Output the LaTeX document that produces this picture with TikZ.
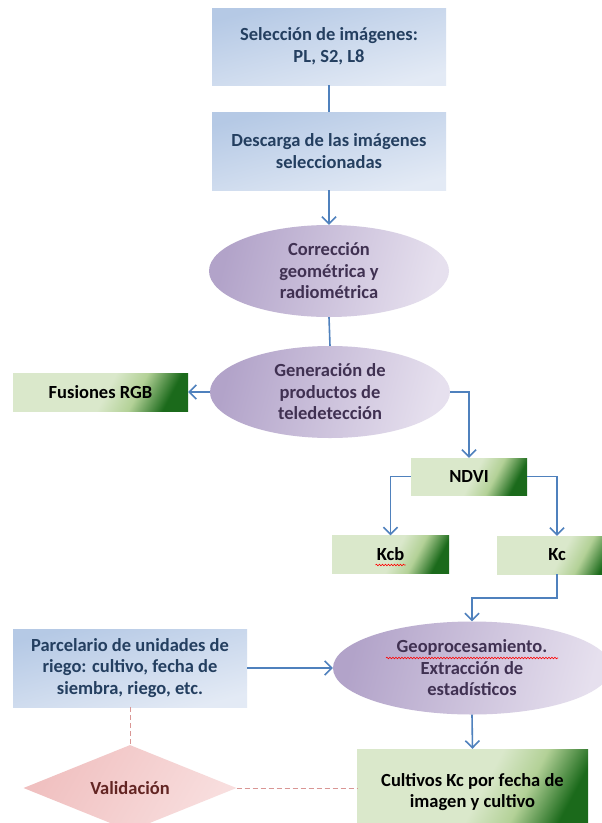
\documentclass[tikz,border=0pt]{standalone}
\usepackage{fontspec}
\setmainfont{Carlito}
\usetikzlibrary{shapes.geometric,arrows.meta,decorations.pathmorphing}
\definecolor{conn}{HTML}{4F81BD}
\definecolor{bluetxt}{HTML}{243F60}
\definecolor{blueA}{HTML}{B5C9E5}
\definecolor{blueB}{HTML}{E3EAF5}
\definecolor{purA}{HTML}{B2A3C9}
\definecolor{purB}{HTML}{E6E0EE}
\definecolor{purtxt}{HTML}{403152}
\definecolor{grL}{HTML}{DAE8CB}
\definecolor{grM}{HTML}{B3D197}
\definecolor{grD}{HTML}{1B6A1B}
\definecolor{pinkA}{HTML}{F0C0C0}
\definecolor{pinkB}{HTML}{F8DEDE}
\definecolor{redtxt}{HTML}{632523}
\definecolor{dashred}{HTML}{D99694}
\pgfdeclarehorizontalshading{greenbox}{100bp}{color(0bp)=(grL); color(25bp)=(grL); color(52bp)=(grL); color(63bp)=(grM); color(75bp)=(grD); color(100bp)=(grD)}
\pgfdeclarehorizontalshading{purpshade}{100bp}{color(0bp)=(purA); color(25bp)=(purA); color(75bp)=(purB); color(100bp)=(purB)}
\pgfdeclarehorizontalshading{pinkshade}{100bp}{color(0bp)=(pinkA); color(25bp)=(pinkA); color(75bp)=(pinkB); color(100bp)=(pinkB)}
\tikzset{
  txt/.style={font=\fontsize{18.5}{21.5}\selectfont\bfseries, align=center, inner sep=0pt},
  bluebox/.style={txt, rectangle, shade, top color=blueA, bottom color=blueB, shading angle=15, text=bluetxt},
  ovalbox/.style={txt, ellipse, shade, shading=purpshade, shading angle=-15, text=purtxt},
  greenrect/.style={txt, rectangle, shade, shading=greenbox, shading angle=-28, text=black},
  valbox/.style={txt, diamond, shade, shading=pinkshade, shading angle=-30, text=redtxt, aspect=2.5},
  link/.style={draw=conn, line width=1.6pt},
  arr/.style={link, -{Straight Barb[length=7pt,width=14pt,line width=1.6pt]}},
  dashlink/.style={draw=dashred, line width=1pt, dash pattern=on 5pt off 3pt},
  spell/.style={draw=red, line width=0.6pt, decorate, decoration={snake, segment length=3pt, amplitude=0.8pt}}
}
\begin{document}
\begin{tikzpicture}[x=1pt,y=-1pt]
\path[clip] (0,0) rectangle (602,823);
\fill[white] (0,0) rectangle (602,823);

\node[bluebox, minimum width=234pt, minimum height=77pt] (sel) at (329,46.5) {Selección de imágenes:\\PL, S2, L8};
\node[bluebox, minimum width=234pt, minimum height=78pt] (desc) at (329,151) {Descarga de las imágenes\\seleccionadas};
\node[ovalbox, minimum width=240pt, minimum height=92pt] (corr) at (329,271) {Corrección\\geométrica y\\radiométrica};
\node[ovalbox, minimum width=240pt, minimum height=92pt] (gen) at (330,392) {Generación de\\productos de\\teledetección};
\node[greenrect, minimum width=175pt, minimum height=38pt] (fus) at (100.5,392) {Fusiones RGB};
\node[greenrect, minimum width=116pt, minimum height=37pt] (ndvi) at (469,476.5) {NDVI};
\node[greenrect, minimum width=117pt, minimum height=38pt] (kcb) at (390.5,554.5) {Kcb};
\node[greenrect, minimum width=120pt, minimum height=38pt] (kc) at (557,555) {Kc};
\node[ovalbox, minimum width=278pt, minimum height=93pt] (geo) at (472,668) {Geoprocesamiento.\\Extracción de\\estadísticos};
\node[bluebox, minimum width=234pt, minimum height=78pt] (parc) at (130,668) {Parcelario de unidades de\\riego: cultivo, fecha de\\siembra, riego, etc.};
\node[greenrect, minimum width=231pt, minimum height=86pt] (cult) at (472.5,792) {Cultivos Kc por fecha de\\imagen y cultivo};
\node[valbox, minimum width=213pt, minimum height=86pt] (val) at (130,788) {Validación};

\draw[link] (sel.south) -- (desc.north);
\draw[arr] (desc.south) -- (corr.north);
\draw[link] (corr.south) -- (gen.north);
\draw[arr] (gen.west) -- (fus.east);
\draw[arr] (gen.east) -| (ndvi.north);
\draw[arr] (ndvi.west) -| (kcb.north);
\draw[arr] (ndvi.east) -| (kc.north);
\draw[arr] (kc.south) -- ++(0,24) -| (geo.north);
\draw[arr] (parc.east) -- (geo.west);
\draw[arr] (geo.south) -- (cult.north);
\draw[dashlink] (parc.south) -- (val.north);
\draw[dashlink] (val.east) -- (val.east -| cult.west);

\draw[spell] ([xshift=-15pt,yshift=-10.5pt]kcb.center) -- ++(30,0);
\draw[spell] ([xshift=-86pt,yshift=10pt]geo.center) -- ++(172,0);
\end{tikzpicture}
\end{document}
